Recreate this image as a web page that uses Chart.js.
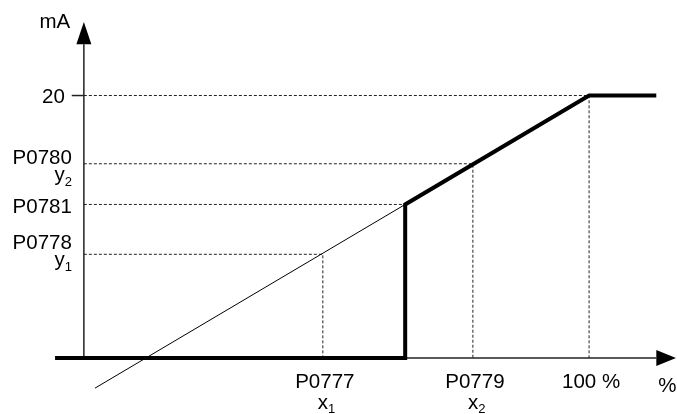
<!DOCTYPE html>
<html>
<head>
<meta charset="utf-8">
<script src="https://cdn.jsdelivr.net/npm/chart.js@4/dist/chart.umd.min.js"></script>
<style>body{margin:0;background:#fff}</style>
</head>
<body>
<canvas id="myChart" width="677" height="414"></canvas>
<script>
// output characteristic, x in %, y in mA
var thickX = [-5.7, 63.6, 63.6, 100, 113.3];
var thickY = [0, 0, 11.7, 20, 20];
var thinX = [2.2, 63.6];
var thinY = [-2.3, 11.7];

// dashed guide points (x1/y1, x2/y2, P0781, 100 % / 20 mA)
var guideX = [47.3, 77, 63.6, 100];
var guideY = [7.9, 14.8, 11.7, 20];
var guideDrop = [true, true, false, true];

// tick labels
var xTickValues = [47.3, 77, 100];
var xTickLabels = ['P0777', 'P0779', '100 %'];
var xTickSubs = ['1', '2', ''];
var yTickValues = [20, 14.8, 11.7, 7.9];
var yTickLabels = ['20', 'P0780', 'P0781', 'P0778'];
var yTickSubs = ['', '2', '', '1'];

var FONT = "'Liberation Sans', Arial, sans-serif";
var BIG = '20.5px ' + FONT, SMALL = '13px ' + FONT;

function pts(xa, ya) {
    var out = [];
    for (var i = 0; i < xa.length; i++) out.push({x: xa[i], y: ya[i]});
    return out;
}

var datasets = [
    {data: pts(thickX, thickY), borderColor: '#000', borderWidth: 4},
    {data: pts(thinX, thinY), borderColor: '#000', borderWidth: 1}
];
for (var i = 0; i < guideX.length; i++) {
    var gx = [0, guideX[i]], gy = [guideY[i], guideY[i]];
    if (guideDrop[i]) { gx.push(guideX[i]); gy.push(0); }
    datasets.push({data: pts(gx, gy), borderColor: '#222', borderWidth: 1, borderDash: [3, 2]});
}

function arrow(ctx, tx, ty, bx, by, half) {
    var dx = tx - bx, dy = ty - by, len = Math.sqrt(dx * dx + dy * dy);
    var nx = -dy / len * half, ny = dx / len * half;
    ctx.beginPath();
    ctx.moveTo(tx, ty);
    ctx.lineTo(bx + nx, by + ny);
    ctx.lineTo(bx - nx, by - ny);
    ctx.closePath();
    ctx.fill();
}

var axesPlugin = {
    id: 'axes',
    beforeDatasetsDraw: function (chart) {
        var ctx = chart.ctx, xs = chart.scales.x, ys = chart.scales.y;
        var x0 = xs.getPixelForValue(0), y0 = ys.getPixelForValue(0);
        ctx.save();
        ctx.strokeStyle = '#222';
        ctx.fillStyle = '#000';
        ctx.lineWidth = 1.5;
        // y axis
        var yBase = ys.getPixelForValue(23.9), yTip = ys.getPixelForValue(25.6);
        ctx.beginPath(); ctx.moveTo(x0, y0); ctx.lineTo(x0, yBase); ctx.stroke();
        arrow(ctx, x0, yTip, x0, yBase, 7.5);
        // x axis
        var xBase = xs.getPixelForValue(113.3), xTip = xs.getPixelForValue(117.2);
        ctx.beginPath(); ctx.moveTo(x0, y0); ctx.lineTo(xBase, y0); ctx.stroke();
        arrow(ctx, xTip, y0, xBase, y0, 8);
        // tick at 20 mA
        var y20 = ys.getPixelForValue(20);
        ctx.beginPath(); ctx.moveTo(xs.getPixelForValue(-2.4), y20); ctx.lineTo(x0, y20); ctx.stroke();
        ctx.restore();
    },
    afterDatasetsDraw: function (chart) {
        var ctx = chart.ctx, xs = chart.scales.x, ys = chart.scales.y;
        var x0 = xs.getPixelForValue(0), y0 = ys.getPixelForValue(0);
        ctx.save();
        ctx.fillStyle = '#000';
        ctx.textBaseline = 'alphabetic';

        // axis names
        ctx.font = BIG;
        ctx.textAlign = 'center';
        ctx.fillText('mA', x0 - 29, 28);
        ctx.textAlign = 'left';
        ctx.fillText('%', xs.getPixelForValue(113.3) + 2, y0 + 34);

        // y labels
        for (var i = 0; i < yTickValues.length; i++) {
            var py = ys.getPixelForValue(yTickValues[i]);
            ctx.font = BIG;
            ctx.textAlign = 'right';
            if (yTickLabels[i] === '20') {
                ctx.fillText(yTickLabels[i], x0 - 19, py + 7);
            } else if (!yTickSubs[i]) {
                ctx.fillText(yTickLabels[i], x0 - 12, py + 9);
            } else {
                var shift = i === 1 ? 2 : -3;
                ctx.fillText(yTickLabels[i], x0 - 12, py - 2 + shift);
                ctx.font = SMALL;
                var sw = ctx.measureText(yTickSubs[i]).width;
                ctx.fillText(yTickSubs[i], x0 - 12, py + 20 + shift);
                ctx.font = BIG;
                ctx.fillText('y', x0 - 12 - sw, py + 15 + shift);
            }
        }

        // x labels
        for (var j = 0; j < xTickValues.length; j++) {
            var px = xs.getPixelForValue(xTickValues[j]);
            ctx.font = BIG;
            ctx.textAlign = 'center';
            ctx.fillText(xTickLabels[j], px + 2, y0 + 30);
            if (xTickSubs[j]) {
                ctx.textAlign = 'left';
                var xw = ctx.measureText('x').width;
                ctx.fillText('x', px - 5, y0 + 51);
                ctx.font = SMALL;
                ctx.fillText(xTickSubs[j], px - 5 + xw, y0 + 55);
            }
        }
        ctx.restore();
    }
};

var ctx = document.getElementById('myChart').getContext('2d');
var myChart = new Chart(ctx, {
    type: 'scatter',
    data: {datasets: datasets},
    options: {
        responsive: false,
        animation: false,
        devicePixelRatio: 1,
        layout: {padding: 0},
        elements: {
            point: {radius: 0, hoverRadius: 0},
            line: {tension: 0, borderJoinStyle: 'miter', borderCapStyle: 'butt', fill: false}
        },
        datasets: {scatter: {showLine: true, clip: false}},
        plugins: {legend: {display: false}, tooltip: {enabled: false}},
        scales: {
            x: {type: 'linear', display: false, min: -16.6, max: 117.4},
            y: {type: 'linear', display: false, min: -4.27, max: 27.28}
        }
    },
    plugins: [axesPlugin]
});
</script>
</body>
</html>
